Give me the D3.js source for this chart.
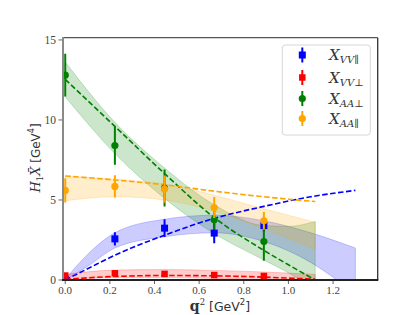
<!doctype html>
<head>
  <title>form factors vs q2</title>
</head>
<style>
  body { margin: 0; background: white; }
  svg text { fill: #333; }
</style>
<body>
  <script src="https://cdn.jsdelivr.net/npm/d3@7"></script>
  <svg id="chart" width="420" height="315"></svg>
  <script>

  // lattice points (q2 in GeV^2)
  const qPts = [0, 0.2225, 0.445, 0.6675, 0.89];

  const vvParVal = [0.05, 2.57, 3.24, 2.93, 3.4];
  const vvParErr = [0.1, 0.42, 0.56, 0.63, 0.4];
  const vvPerpVal = [0.28, 0.42, 0.38, 0.31, 0.25];
  const vvPerpErr = [0.1, 0.1, 0.1, 0.08, 0.08];
  const aaPerpVal = [12.8, 8.4, 5.75, 3.76, 2.4];
  const aaPerpErr = [1.33, 1.2, 1.15, 0.6, 1.2];
  const aaParVal = [5.6, 5.85, 5.68, 4.53, 3.7];
  const aaParErr = [0.75, 0.7, 0.85, 0.65, 0.55];

  // fit bands + dashed curves
  const fitQ = [0, 0.2225, 0.445, 0.6675, 0.89, 1.0, 1.12];
  const blueQ = [0, 0.1, 0.2225, 0.445, 0.6675, 0.89, 1.1, 1.3];

  const vvParHi = [0.05, 1.6, 2.95, 3.8, 4.05, 3.7, 2.95, 2.0];
  const vvParLo = [0.0, 0.85, 2.0, 2.7, 2.95, 2.4, 1.1, -0.9];
  const vvParDash = [0, 0.7, 1.55, 2.8, 3.85, 4.6, 5.2, 5.6];

  const vvPerpHi = [0.35, 0.62, 0.65, 0.6, 0.5, 0.43, 0.35];
  const vvPerpLo = [0.02, 0.15, 0.15, 0.1, 0.0, -0.05, -0.1];
  const vvPerpDash = [0.05, 0.22, 0.28, 0.26, 0.18, 0.12, 0.05];

  const aaPerpHi = [13.62, 9.85, 7.0, 4.7, 3.4, 3.35, 3.66];
  const aaPerpLo = [11.45, 7.9, 5.1, 2.9, 1.25, 0.45, -0.6];
  const aaPerpDash = [12.54, 9.6, 6.65, 3.9, 1.85, 0.95, 0.0];

  const aaParHi = [6.5, 6.3, 6.0, 5.3, 4.45, 4.05, 3.6];
  const aaParLo = [4.95, 5.2, 5.0, 4.3, 3.2, 2.6, 1.9];
  const aaParDash = [6.5, 6.25, 5.95, 5.55, 5.2, 5.05, 4.9];

  const xTicks = [0, 0.2, 0.4, 0.6, 0.8, 1.0, 1.2];
  const yTicks = [0, 5, 10, 15];

  const svg = d3.select("#chart");
  const m = {left: 63, right: 377.7, top: 37.7, bottom: 280};

  let x = d3.scaleLinear().domain([-0.01, 1.4]).range([m.left, m.right]);
  let y = d3.scaleLinear().domain([0, 15.14]).range([m.bottom, m.top]);

  svg.append("clipPath").attr("id", "plotclip")
    .append("rect")
    .attr("x", m.left).attr("y", m.top)
    .attr("width", m.right - m.left).attr("height", m.bottom - m.top);

  const plot = svg.append("g").attr("clip-path", "url(#plotclip)");

  const series = [
    {c: "blue", q: blueQ, hi: vvParHi, lo: vvParLo, dash: vvParDash, val: vvParVal, err: vvParErr, mk: "sq", size: 7},
    {c: "red", q: fitQ, hi: vvPerpHi, lo: vvPerpLo, dash: vvPerpDash, val: vvPerpVal, err: vvPerpErr, mk: "sq", size: 6.5},
    {c: "green", q: fitQ, hi: aaPerpHi, lo: aaPerpLo, dash: aaPerpDash, val: aaPerpVal, err: aaPerpErr, mk: "ci", size: 3.6},
    {c: "orange", q: fitQ, hi: aaParHi, lo: aaParLo, dash: aaParDash, val: aaParVal, err: aaParErr, mk: "ci", size: 3.6}
  ];

  // bands
  series.forEach(s => {
    let pts = s.q.map((q, i) => ({q: q, hi: s.hi[i], lo: s.lo[i]}));
    plot.append("path")
      .datum(pts)
      .attr("fill", s.c)
      .attr("fill-opacity", 0.2)
      .attr("stroke", s.c)
      .attr("stroke-opacity", 0.2)
      .attr("d", d3.area()
        .curve(d3.curveMonotoneX)
        .x(d => x(d.q)).y0(d => y(d.lo)).y1(d => y(d.hi)));
  });

  // dashed fit lines
  series.forEach(s => {
    let pts = s.q.map((q, i) => ({q: q, v: s.dash[i]}));
    plot.append("path")
      .datum(pts)
      .attr("fill", "none")
      .attr("stroke", s.c)
      .attr("stroke-width", 1.6)
      .attr("stroke-dasharray", "5.5,2.5")
      .attr("d", d3.line().curve(d3.curveMonotoneX).x(d => x(d.q)).y(d => y(d.v)));
  });

  // data points with error bars
  series.forEach(s => {
    let g = plot.append("g");
    let pts = qPts.map((q, i) => ({q: q, v: s.val[i], e: s.err[i]}));
    g.selectAll("line").data(pts).enter().append("line")
      .attr("x1", d => x(d.q)).attr("x2", d => x(d.q))
      .attr("y1", d => y(d.v - d.e)).attr("y2", d => y(d.v + d.e))
      .attr("stroke", s.c).attr("stroke-width", 2);
    if (s.mk == "sq") {
      g.selectAll("rect").data(pts).enter().append("rect")
        .attr("x", d => x(d.q) - s.size / 2).attr("y", d => y(d.v) - s.size / 2)
        .attr("width", s.size).attr("height", s.size)
        .attr("fill", s.c);
    } else {
      g.selectAll("circle").data(pts).enter().append("circle")
        .attr("cx", d => x(d.q)).attr("cy", d => y(d.v)).attr("r", s.size)
        .attr("fill", s.c);
    }
  });

  // spines
  svg.append("line").attr("x1", m.left).attr("x2", m.right).attr("y1", m.top).attr("y2", m.top)
    .attr("stroke", "#555").attr("stroke-width", 1.3);
  svg.append("line").attr("x1", m.right).attr("x2", m.right).attr("y1", m.top).attr("y2", m.bottom)
    .attr("stroke", "#333").attr("stroke-width", 1.3);
  svg.append("line").attr("x1", m.left).attr("x2", m.left).attr("y1", m.top - 0.6).attr("y2", m.bottom)
    .attr("stroke", "#8a8a8a").attr("stroke-width", 2);
  svg.append("line").attr("x1", m.left - 1).attr("x2", m.right + 0.6).attr("y1", m.bottom).attr("y2", m.bottom)
    .attr("stroke", "#222").attr("stroke-width", 2);

  // ticks
  const tickFont = "'Liberation Serif', 'DejaVu Serif', serif";
  let xt = svg.append("g");
  xTicks.forEach(t => {
    xt.append("line").attr("x1", x(t)).attr("x2", x(t)).attr("y1", m.bottom + 1).attr("y2", m.bottom + 4)
      .attr("stroke", "#555").attr("stroke-width", 0.9);
    xt.append("text").attr("x", x(t)).attr("y", m.bottom + 14)
      .attr("text-anchor", "middle").attr("font-family", tickFont).attr("font-size", 11)
      .style("fill", "#444")
      .text(d3.format(".1f")(t));
  });
  let yt = svg.append("g");
  yTicks.forEach(t => {
    yt.append("line").attr("x1", m.left - 4.5).attr("x2", m.left - 1).attr("y1", y(t)).attr("y2", y(t))
      .attr("stroke", "#555").attr("stroke-width", 0.9);
    yt.append("text").attr("x", m.left - 7).attr("y", y(t) + 4)
      .attr("text-anchor", "end").attr("font-family", tickFont).attr("font-size", 11.5)
      .style("fill", "#444")
      .text(t);
  });

  // axis labels
  let xl = svg.append("text").attr("x", 220).attr("y", 311).attr("text-anchor", "middle");
  xl.append("tspan").attr("font-family", "'DejaVu Serif', serif").attr("font-weight", "bold")
    .attr("font-size", 14).text("q");
  xl.append("tspan").attr("font-family", "'DejaVu Serif', serif").attr("font-size", 8.5)
    .attr("dy", -6).text("2");
  xl.append("tspan").attr("font-family", "'DejaVu Sans', sans-serif").attr("font-size", 12.5)
    .attr("dy", 6).text(" [GeV");
  xl.append("tspan").attr("font-family", "'DejaVu Sans', sans-serif").attr("font-size", 8.5)
    .attr("dy", -6).text("2");
  xl.append("tspan").attr("font-family", "'DejaVu Sans', sans-serif").attr("font-size", 12.5)
    .attr("dy", 6).text("]");

  let yl = svg.append("text").attr("transform", "translate(40,158) rotate(-90)").attr("text-anchor", "middle");
  yl.append("tspan").attr("font-family", "'DejaVu Serif', serif").attr("font-style", "italic")
    .attr("font-size", 13).text("H");
  yl.append("tspan").attr("font-family", "'DejaVu Serif', serif").attr("font-size", 8.5)
    .attr("dy", 3).text("1");
  yl.append("tspan").attr("font-family", "'DejaVu Serif', serif").attr("font-style", "italic")
    .attr("font-size", 13).attr("dy", -3).text("X\u0304");
  yl.append("tspan").attr("font-family", "'DejaVu Sans', sans-serif").attr("font-size", 12)
    .text(" [GeV");
  yl.append("tspan").attr("font-family", "'DejaVu Sans', sans-serif").attr("font-size", 8)
    .attr("dy", -6).text("4");
  yl.append("tspan").attr("font-family", "'DejaVu Sans', sans-serif").attr("font-size", 12)
    .attr("dy", 6).text("]");

  // legend
  const legNames = [["VV", "\u2225"], ["VV", "\u22a5"], ["AA", "\u22a5"], ["AA", "\u2225"]];
  const legY = [55, 77.5, 98.5, 118.5];
  let leg = svg.append("g");
  leg.append("rect").attr("x", 282.3).attr("y", 45).attr("width", 88).attr("height", 90)
    .attr("rx", 3).attr("fill", "white").attr("fill-opacity", 0.85)
    .attr("stroke", "#d6d6d6").attr("stroke-width", 1);
  series.forEach((s, i) => {
    let cy = legY[i];
    leg.append("line").attr("x1", 302.3).attr("x2", 302.3).attr("y1", cy - 7.5).attr("y2", cy + 7.5)
      .attr("stroke", s.c).attr("stroke-width", 2);
    if (s.mk == "sq") {
      leg.append("rect").attr("x", 302.3 - s.size / 2).attr("y", cy - s.size / 2)
        .attr("width", s.size).attr("height", s.size).attr("fill", s.c);
    } else {
      leg.append("circle").attr("cx", 302.3).attr("cy", cy).attr("r", s.size).attr("fill", s.c);
    }
    let t = leg.append("text").attr("x", 329).attr("y", cy + 5)
      .attr("font-family", "'DejaVu Serif', serif");
    t.append("tspan").attr("font-style", "italic").attr("font-size", 15).text("X");
    t.append("tspan").attr("font-style", "italic").attr("font-size", 10).attr("dy", 3).text(legNames[i][0]);
    t.append("tspan").attr("font-size", 10).text(legNames[i][1]);
  });

  </script>
</body>
